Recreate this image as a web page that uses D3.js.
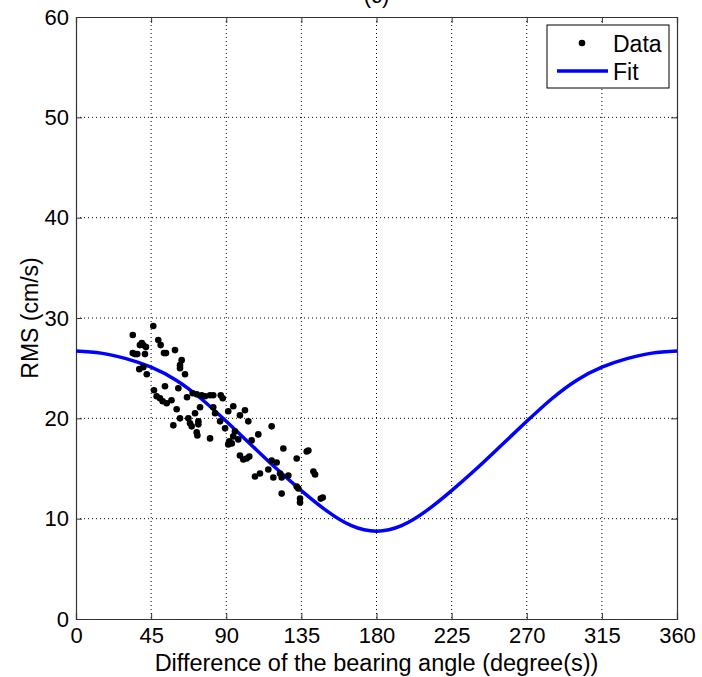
<!DOCTYPE html>
<html><head><meta charset="utf-8">
<script src="https://cdn.jsdelivr.net/npm/d3@7"></script>
<style>body{margin:0;background:#fff;} svg{display:block;font-family:"Liberation Sans",Arial,sans-serif;}</style>
</head><body>
<script>
// ---- data ----
const xTicks = [0,45,90,135,180,225,270,315,360];
const yTicks = [0,10,20,30,40,50,60];
const dataX = [34.0,46.3,49.3,50.7,39.4,38.3,40.3,41.9,34.0,36.7,35.3,41.3,52.7,53.9,59.3,63.3,62.3,62.3,40.3,37.9,
  42.4,65.3,46.7,53.3,61.3,48.3,50.3,51.9,54.3,57.2,60.3,66.5,69.9,72.3,75.3,77.3,80.3,82.2,86.7,87.9,
  74.3,71.3,82.2,83.3,62.3,67.3,68.3,69.3,58.3,73.3,73.3,72.3,72.7,80.3,86.3,89.3,91.8,91.2,91.2,94.2,
  98.2,101.2,103.2,95.2,94.2,97.2,93.3,109.2,117.2,105.2,98.2,100.2,102.2,103.8,124.2,117.2,120.2,107.2,110.2,115.2,
  118.2,122.2,123.2,127.2,132.2,138.2,139.2,123.2,132.2,133.2,142.2,143.2,134.2,134.2,146.6,147.8];
const dataY = [28.3,29.2,27.8,27.3,27.5,27.3,27.3,27.1,26.5,26.4,26.4,26.4,26.5,26.5,26.8,25.8,25.3,25.0,25.1,24.9,
  24.4,24.4,22.8,23.2,23.0,22.2,22.0,21.7,21.5,21.8,20.9,22.1,22.5,22.4,22.3,22.2,22.3,22.3,22.3,22.0,
  21.1,20.5,21.1,20.5,20.0,20.0,19.5,19.2,19.3,19.7,19.4,18.6,18.3,18.0,19.7,19.0,17.7,17.4,20.7,21.2,
  20.3,20.8,19.7,18.7,18.2,17.9,17.5,18.4,19.2,17.8,16.3,15.9,16.0,16.2,17.0,15.8,15.6,14.2,14.5,14.9,
  14.1,14.5,14.1,14.3,16.0,16.7,16.8,12.5,13.2,13.0,14.7,14.4,12.0,11.6,12.0,12.1];
const fitX = [0,15,30,45,60,75,90,105,120,135,150,165,180,195,210,225,240,255,270,285,300,315,330,345,360];
const fitY = [26.7,26.5,25.95,25.1,23.8,21.95,19.7,17.35,15.0,12.8,10.8,9.3,8.75,9.3,10.8,12.8,15.0,17.35,19.7,21.95,23.8,25.1,25.95,26.5,26.7];
const titleText = "(c)";
const xLabel = "Difference of the bearing angle (degree(s))";
const yLabel = "RMS (cm/s)";

// ---- layout ----
const W = 702, H = 677;
const L = 76, R = 677, T = 17, B = 619;
const FONT = "Liberation Sans, Arial, sans-serif";
const svg = d3.select("body").append("svg").attr("width", W).attr("height", H);
const x = d3.scaleLinear().domain([0,360]).range([L,R]);
const y = d3.scaleLinear().domain([0,60]).range([B,T]);

// grid
const g = svg.append("g");
g.selectAll(".vg").data(xTicks.slice(1,-1)).join("line")
  .attr("x1", d=>x(d)).attr("x2", d=>x(d)).attr("y1", T).attr("y2", B)
  .attr("stroke","#000").attr("stroke-width",1).attr("stroke-dasharray","1,3");
g.selectAll(".hg").data(yTicks.slice(1,-1)).join("line")
  .attr("x1", L).attr("x2", R).attr("y1", d=>y(d)).attr("y2", d=>y(d))
  .attr("stroke","#000").attr("stroke-width",1).attr("stroke-dasharray","1,3");

// axes with ticks on all sides
const tickLen = 6;
const axB = svg.append("g").attr("transform",`translate(0,${B})`)
  .call(d3.axisBottom(x).tickValues(xTicks).tickSize(-tickLen).tickPadding(8).tickFormat(d3.format("d")));
const axT = svg.append("g").attr("transform",`translate(0,${T})`)
  .call(d3.axisTop(x).tickValues(xTicks).tickSize(-tickLen).tickFormat(""));
const axL = svg.append("g").attr("transform",`translate(${L},0)`)
  .call(d3.axisLeft(y).tickValues(yTicks).tickSize(-tickLen).tickPadding(7).tickFormat(d3.format("d")));
const axR = svg.append("g").attr("transform",`translate(${R},0)`)
  .call(d3.axisRight(y).tickValues(yTicks).tickSize(-tickLen).tickFormat(""));
[axB,axT,axL,axR].forEach(a=>{
  a.select(".domain").attr("stroke","#333").attr("stroke-width",1.2);
  a.selectAll(".tick line").attr("stroke","#333");
  a.selectAll("text").attr("font-size",22).attr("fill","#000").attr("font-family",FONT);
});

// fit line
svg.append("path").datum(fitX.map((d,i)=>[d,fitY[i]]))
  .attr("d", d3.line().x(d=>x(d[0])).y(d=>y(d[1])).curve(d3.curveNatural))
  .attr("fill","none").attr("stroke","#0000ff").attr("stroke-width",3.5);

// data points
svg.append("g").selectAll("circle").data(dataX.map((d,i)=>[d,dataY[i]])).join("circle")
  .attr("cx", d=>x(d[0])).attr("cy", d=>y(d[1])).attr("r",3.3).attr("fill","#000");

// legend
const lg = svg.append("g").attr("font-family",FONT);
lg.append("rect").attr("x",547).attr("y",25).attr("width",122).attr("height",63)
  .attr("fill","#fff").attr("stroke","#000").attr("stroke-width",1);
lg.append("circle").attr("cx",582).attr("cy",43).attr("r",3.3).attr("fill","#000");
lg.append("text").attr("x",613).attr("y",52).attr("font-size",23).text("Data");
lg.append("line").attr("x1",557).attr("x2",608).attr("y1",71).attr("y2",71)
  .attr("stroke","#0000ff").attr("stroke-width",3.5);
lg.append("text").attr("x",613).attr("y",80).attr("font-size",23).text("Fit");

// labels
svg.append("text").attr("x",(L+R)/2).attr("y",3).attr("text-anchor","middle").attr("font-size",22).text(titleText);
svg.append("text").attr("x",(L+R)/2).attr("y",671).attr("text-anchor","middle").attr("font-size",23.5).text(xLabel);
svg.append("text").attr("transform",`translate(38,${(T+B)/2}) rotate(-90)`).attr("text-anchor","middle").attr("font-size",23).text(yLabel);
</script>
</body></html>
